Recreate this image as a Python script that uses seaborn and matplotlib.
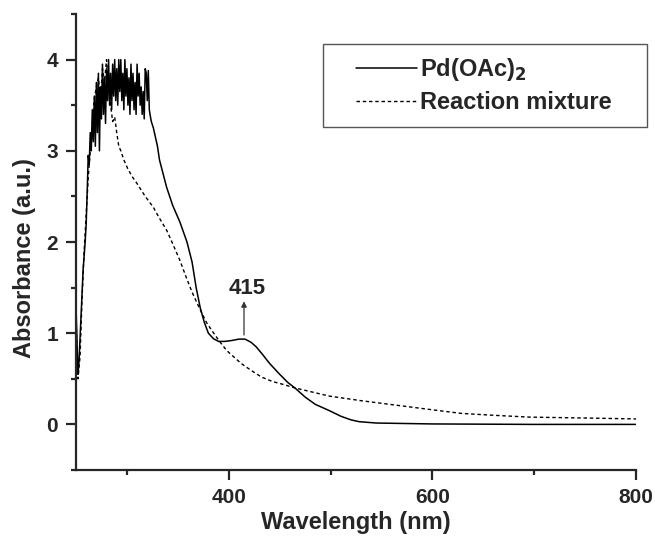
import numpy as np
import pandas as pd
import matplotlib
matplotlib.use('Agg')
import matplotlib.pyplot as plt
from matplotlib.ticker import MultipleLocator
from matplotlib.patches import Rectangle
import seaborn as sns

# Pd(OAc)2 spectrum (solid line)
pd_wl = [250, 251, 252, 253, 254, 256, 257, 258, 259,
         260, 261, 262, 263, 264, 265, 266, 267, 268, 269,
         270, 271, 272, 273, 274, 275, 276, 277, 278, 279,
         280, 281, 282, 283, 284, 285, 286, 287, 288, 289,
         290, 291, 292, 293, 294, 295, 296, 297, 298, 299,
         300, 301, 302, 303, 304, 305, 306, 307, 308, 309,
         310, 311, 312, 313, 314, 315, 316, 317, 318, 319,
         320, 321, 322, 323, 324, 326, 330, 332, 339, 345,
         352, 359, 364, 368, 372, 376, 380, 385, 390, 396,
         403, 410, 416, 422, 427, 433, 440, 450, 458, 465,
         475, 485, 499, 510, 520, 528, 545, 600, 700, 800]
pd_abs = [1.30, 0.90, 0.55, 0.70, 0.95, 1.45, 1.70, 1.85, 2.00,
          2.20, 2.55, 2.95, 2.85, 3.20, 3.00, 3.45, 3.10, 3.60, 3.05,
          3.75, 3.20, 3.85, 3.00, 3.70, 3.35, 3.95, 3.40, 3.80, 3.30,
          3.90, 3.55, 4.00, 3.50, 3.85, 3.45, 3.95, 3.60, 4.00, 3.55,
          3.90, 3.50, 4.00, 3.65, 4.00, 3.55, 3.85, 3.45, 4.00, 3.60,
          3.90, 3.50, 3.80, 3.40, 3.95, 3.55, 3.85, 3.45, 3.75, 3.40,
          3.95, 3.60, 3.85, 3.50, 3.70, 3.40, 3.65, 3.35, 3.90, 3.85,
          3.55, 3.88, 3.45, 3.38, 3.32, 3.25, 3.05, 2.90, 2.60, 2.40,
          2.22, 2.00, 1.78, 1.50, 1.28, 1.12, 1.00, 0.94, 0.91, 0.91,
          0.92, 0.935, 0.935, 0.90, 0.85, 0.77, 0.67, 0.55, 0.46, 0.40,
          0.30, 0.22, 0.15, 0.09, 0.05, 0.03, 0.015, 0.005, 0.0, 0.0]

# reaction mixture spectrum (dashed line)
mix_wl = [250, 251, 252, 254, 256, 258, 260, 262, 264, 266, 268, 270, 272, 274, 276, 278,
          280, 282, 284, 286, 288, 290, 292, 294, 297, 301, 305, 310, 318, 326, 332, 339,
          345, 352, 358, 364, 371, 378, 384, 391, 398, 404, 412, 421, 432, 443, 453, 465,
          480, 499, 530, 565, 600, 629, 660, 695, 750, 800]
mix_abs = [1.20, 0.80, 0.50, 0.75, 1.40, 1.90, 2.30, 2.70, 3.00, 3.30, 3.57, 3.70, 3.80, 3.55, 3.90, 3.75,
           4.00, 3.70, 3.50, 3.32, 3.37, 3.20, 3.05, 3.00, 2.90, 2.80, 2.72, 2.64, 2.50, 2.38, 2.26, 2.13,
           1.98, 1.80, 1.62, 1.45, 1.28, 1.12, 1.02, 0.91, 0.81, 0.75, 0.67, 0.60, 0.52, 0.47, 0.44, 0.40,
           0.36, 0.31, 0.26, 0.21, 0.16, 0.12, 0.10, 0.08, 0.07, 0.06]

peak_wl = 415
peak_abs = 0.95

sns.set_style('ticks')
plt.rcParams['font.family'] = ['Liberation Sans', 'DejaVu Sans']
plt.rcParams['font.weight'] = 'bold'
plt.rcParams['mathtext.default'] = 'bf'

df1 = pd.DataFrame({'wl': pd_wl, 'A': pd_abs})
df2 = pd.DataFrame({'wl': mix_wl, 'A': mix_abs})

fig = plt.figure(figsize=(6.55, 5.36), dpi=100)
ax = fig.add_axes([76/655, 66/536, 560/655, 456/536])

sns.lineplot(data=df1, x='wl', y='A', ax=ax, color='black', lw=1.1,
             estimator=None, label='Pd(OAc)$_2$')
sns.lineplot(data=df2, x='wl', y='A', ax=ax, color='black', lw=1.0,
             estimator=None, label='Reaction mixture', linestyle=(0, (2.5, 2)))

ax.set_xlim(250, 800)
ax.set_ylim(-0.5, 4.5)
ax.xaxis.set_major_locator(MultipleLocator(200))
ax.xaxis.set_minor_locator(MultipleLocator(100))
ax.yaxis.set_major_locator(MultipleLocator(1))
ax.yaxis.set_minor_locator(MultipleLocator(0.5))
ax.tick_params(which='major', length=7, width=1.6, labelsize=15, direction='out', pad=6)
ax.tick_params(which='minor', length=3.5, width=1.6, direction='out')
for lab in ax.get_xticklabels() + ax.get_yticklabels():
    lab.set_fontweight('bold')
sns.despine(ax=ax)
for s in ['left', 'bottom']:
    ax.spines[s].set_linewidth(1.6)

ax.set_xlabel('Wavelength (nm)', fontsize=17, fontweight='bold', labelpad=3)
ax.set_ylabel('Absorbance (a.u.)', fontsize=17, fontweight='bold')
ax.yaxis.set_label_coords(-0.072, 0.465)

ax.annotate('', xy=(peak_wl, 1.38), xytext=(peak_wl, peak_abs),
            arrowprops=dict(arrowstyle='-|>', color='#333333', lw=0.9, mutation_scale=8))
ax.text(peak_wl + 3, 1.49, str(peak_wl), fontsize=16, fontweight='bold',
        ha='center', va='center')

# legend without its own frame; box drawn separately for wider side padding
leg = ax.legend(loc='upper left', bbox_to_anchor=(356/655, 1 - 56/536),
                bbox_transform=fig.transFigure, borderaxespad=0, borderpad=0,
                frameon=False, fontsize=17, handlelength=2.6, handletextpad=0.1,
                labelspacing=0.35)
fig.add_artist(Rectangle((323/655, 1 - 127/536), 324/655, 83/536,
                         transform=fig.transFigure, fill=False,
                         edgecolor='#555555', lw=1.0))

fig.savefig('out.png', dpi=100)
